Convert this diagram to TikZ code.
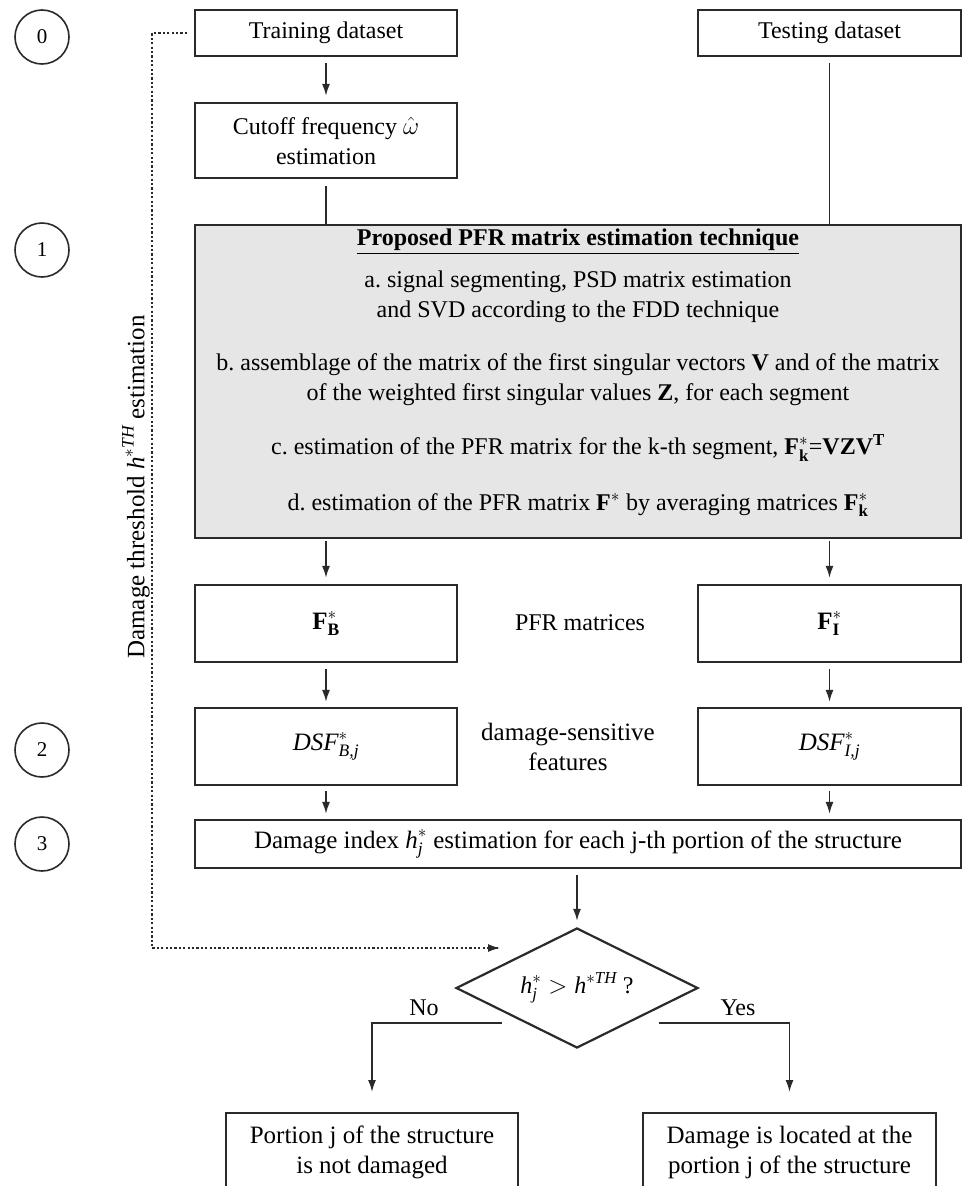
\documentclass[tikz,border=0pt]{standalone}
\usepackage{amsmath}
\usepackage{fontspec}
\setmainfont{Liberation Serif}
\usetikzlibrary{arrows.meta,shapes.geometric}
\definecolor{ln}{HTML}{2A2A2A}
\definecolor{boxgray}{HTML}{E6E6E6}
\frenchspacing
\begin{document}
\begin{tikzpicture}[x=1pt,y=-1pt,
 box/.style={draw=ln,line width=2.2pt,inner sep=0pt,align=center,text=black},
 arr/.style={draw=ln,line width=1.7pt,-{Latex[length=12pt,width=8pt]}},
 lnk/.style={draw=ln,line width=1.7pt},
 num/.style={circle,draw=ln,line width=1.6pt,minimum size=54pt,inner sep=0pt,font=\fontsize{21}{24}\selectfont},
 big/.style={font=\fontsize{24}{30}\selectfont,align=center},
 low/.style={font=\fontsize{25}{30}\selectfont,align=center},
 dots/.style={draw=ln,line width=2.4pt,dash pattern=on 2.2pt off 2.2pt}
]
\useasboundingbox (0,0) rectangle (964,1186);

% step numbers
\node[num] (c0) at (42,37) {0};
\node[num] (c1) at (42,250) {1};
\node[num] (c2) at (42,750) {2};
\node[num] (c3) at (42,844) {3};

% top boxes
\node[box,big,minimum width=262pt,minimum height=46pt] (train) at (326,33) {Training dataset};
\node[box,big,minimum width=263pt,minimum height=46pt] (test) at (829.5,33) {Testing dataset};
\node[box,big,minimum width=262pt,minimum height=75pt] (cut) at (326,140.5) {Cutoff frequency $\hat{\omega}$\\estimation};

% big grey box
\node[box,fill=boxgray,minimum width=766pt,minimum height=313pt] (pfr) at (578,381.5) {};
\node[big,font=\fontsize{24}{30}\selectfont\bfseries] (head) at (578,242) {\underline{Proposed PFR matrix estimation technique}};
\node[big] (ta) at (578,297) {a. signal segmenting, PSD matrix estimation\\and SVD according to the FDD technique};
\node[big] (tb) at (578,380) {b. assemblage of the matrix of the first singular vectors \textbf{V} and of the matrix\\of the weighted first singular values \textbf{Z}, for each segment};
\node[big] (tc) at (578,448) {c. estimation of the PFR matrix for the k-th segment, $\textbf{F}^{*}_{\textbf{k}}$=\textbf{VZV}$^{\textbf{T}}$};
\node[big] (td) at (578,505) {d. estimation of the PFR matrix $\textbf{F}^{*}$ by averaging matrices $\textbf{F}^{*}_{\textbf{k}}$};

% PFR matrices
\node[box,low,minimum width=262pt,minimum height=77pt] (fb) at (326,623.5) {$\textbf{F}^{*}_{\textbf{B}}$};
\node[box,low,minimum width=263pt,minimum height=77pt] (fi) at (829.5,623.5) {$\textbf{F}^{*}_{\textbf{I}}$};
\node[big] (pfrlab) at (580,623) {PFR matrices};

% DSF
\node[box,low,minimum width=262pt,minimum height=77pt] (db) at (326,746.5) {$\textit{DSF}^{*}_{\textit{B,j}}$};
\node[box,low,minimum width=263pt,minimum height=77pt] (di) at (829.5,746.5) {$\textit{DSF}^{*}_{\textit{I,j}}$};
\node[low] (dsflab) at (568,747) {damage-sensitive\\features};

% damage index
\node[box,low,minimum width=766pt,minimum height=48pt] (dmg) at (578,844) {Damage index $\textit{h}^{*}_{\textit{j}}$ estimation for each j-th portion of the structure};

% decision
\node[diamond,draw=ln,line width=2.2pt,aspect=2,minimum width=242pt,minimum height=120pt,inner sep=0pt,big] (dec) at (577,988) {$\textit{h}^{*}_{\textit{j}} > \textit{h}^{*\textit{TH}}$ ?};

% results
\node[box,low,minimum width=292pt,minimum height=78pt,anchor=north] (nod) at (372,1112) {Portion j of the structure\\is not damaged};
\node[box,low,minimum width=293pt,minimum height=78pt,anchor=north] (yesd) at (789.5,1112) {Damage is located at the\\portion j of the structure};

% connectors
\draw[arr,shorten <=6pt,shorten >=6pt] (train) -- (cut);
\draw[lnk,shorten <=7pt] (cut.south) -- (cut.south |- pfr.north);
\draw[lnk,shorten <=6pt] (test.south) -- (test.south |- pfr.north);
\draw[arr,shorten <=2pt,shorten >=6pt] (pfr.south -| fb) -- (fb.north);
\draw[arr,shorten <=2pt,shorten >=6pt] (pfr.south -| fi) -- (fi.north);
\draw[arr,shorten <=6pt,shorten >=5pt] (fb) -- (db);
\draw[arr,shorten <=6pt,shorten >=5pt] (fi) -- (di);
\draw[arr,shorten <=5pt,shorten >=5pt] (db.south) -- (db.south |- dmg.north);
\draw[arr,shorten <=5pt,shorten >=5pt] (di.south) -- (di.south |- dmg.north);
\draw[arr,shorten <=6pt,shorten >=6pt] (dmg.south -| dec) -- (dec.north);

\coordinate (nostart) at (502,1023);
\coordinate (nocorner) at (372,1023);
\coordinate (yesstart) at (659,1023);
\coordinate (yescorner) at (789.5,1023);
\draw[arr,shorten >=20pt] (nostart) -- (nocorner) -- (nod.north);
\draw[arr,shorten >=20pt] (yesstart) -- (yescorner) -- (yesd.north);
\node[big] (nolab) at (424,1008) {No};
\node[big] (yeslab) at (738,1008) {Yes};

% dotted threshold path
\coordinate (dtop) at (152,33);
\coordinate (dbot) at (152,948);
\coordinate (dend) at (500,948);
\draw[dots] ([xshift=-7pt]train.west) -- (dtop) -- (dbot) -- (dend);
\draw[draw=ln,line width=1.7pt,-{Latex[length=12pt,width=8pt]}] ([xshift=-4pt]dend) -- (dend);
\node[rotate=90,font=\fontsize{25}{30}\selectfont] (thr) at (136,487) {Damage threshold $\textit{h}^{*\textit{TH}}$ estimation};
\end{tikzpicture}
\end{document}
